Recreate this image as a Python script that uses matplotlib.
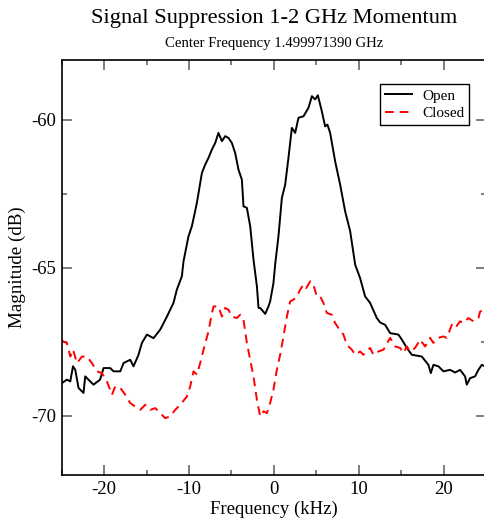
#!/usr/bin/env python
"""Open vs closed signal suppression spectrum (Grace-style plot)."""
import matplotlib

matplotlib.use("Agg")
import matplotlib.pyplot as plt
from matplotlib.ticker import MultipleLocator

# frequency offset (kHz) and magnitude (dB)
open_freq = [-25.0, -24.38, -23.99, -23.67, -23.40, -23.02, -22.43, -22.23, -21.25,
             -20.48, -20.07, -19.28, -18.89, -18.10, -17.71, -16.93, -16.54, -15.95,
             -15.55, -14.96, -14.18, -13.39, -12.60, -11.83, -11.43, -10.84, -10.65,
             -10.06, -9.66, -9.07, -8.48, -8.09, -7.70, -7.30, -6.91, -6.53, -6.12,
             -5.74, -5.35, -4.95, -4.56, -4.17, -3.77, -3.58, -3.18, -2.79, -2.40,
             -2.00, -1.81, -1.61, -1.02, -0.64, -0.44, -0.05, 0.15, 0.54, 0.94, 1.33,
             1.72, 2.12, 2.51, 2.90, 3.49, 4.08, 4.48, 4.86, 5.18, 5.65, 6.04, 6.31,
             6.63, 7.22, 7.81, 8.40, 8.99, 9.58, 10.16, 10.75, 11.34, 12.13, 12.52,
             13.11, 13.70, 14.68, 15.08, 15.67, 16.25, 17.43, 18.21, 18.49, 18.80,
             19.39, 19.98, 20.77, 21.36, 21.94, 22.53, 22.73, 23.12, 23.71, 24.10,
             24.50, 25.0]
open_mag = [-68.90, -68.78, -68.84, -68.33, -68.45, -69.06, -69.23, -68.67, -68.95,
            -68.78, -68.39, -68.39, -68.50, -68.50, -68.22, -68.11, -68.33, -67.94,
            -67.54, -67.26, -67.38, -67.09, -66.65, -66.19, -65.74, -65.29, -64.79,
            -63.94, -63.60, -62.81, -61.80, -61.52, -61.29, -61.01, -60.79, -60.45,
            -60.73, -60.56, -60.62, -60.79, -61.13, -61.69, -62.03, -62.93, -62.98,
            -63.60, -64.73, -65.63, -66.36, -66.36, -66.56, -66.31, -66.14, -65.52,
            -64.90, -63.94, -62.65, -62.20, -61.29, -60.28, -60.45, -59.94, -59.89,
            -59.60, -59.21, -59.32, -59.18, -59.72, -60.23, -60.17, -60.45, -61.41,
            -62.20, -63.10, -63.77, -64.90, -65.35, -65.97, -66.19, -66.70, -66.85,
            -66.93, -67.21, -67.26, -67.43, -67.71, -67.94, -68.00, -68.28, -68.56,
            -68.28, -68.33, -68.50, -68.45, -68.54, -68.45, -68.67, -68.95, -68.73,
            -68.67, -68.45, -68.28, -68.35]

closed_freq = [-25.0, -24.85, -24.38, -23.99, -23.67, -23.20, -22.61, -22.03, -21.44,
               -20.85, -20.26, -19.67, -19.08, -18.69, -18.10, -17.51, -16.93, -16.34,
               -15.75, -15.16, -14.57, -13.98, -13.39, -12.80, -12.21, -11.63, -11.04,
               -10.25, -9.86, -9.47, -9.07, -8.68, -8.29, -7.70, -7.30, -7.11, -6.53,
               -6.12, -5.74, -5.35, -4.95, -4.36, -3.97, -3.58, -3.18, -2.79, -2.40,
               -2.00, -1.61, -1.22, -0.82, -0.44, -0.05, 0.35, 0.74, 1.13, 1.53, 1.92,
               2.31, 2.71, 3.10, 3.49, 3.80, 4.28, 4.66, 5.06, 5.45, 5.84, 6.24, 6.83,
               7.22, 7.61, 8.20, 8.60, 9.19, 9.58, 10.16, 10.55, 11.34, 11.73, 12.32,
               12.91, 13.70, 14.29, 14.88, 15.26, 15.67, 16.05, 16.64, 17.23, 17.82,
               18.41, 18.80, 19.39, 19.98, 20.38, 20.97, 21.36, 21.94, 22.33, 22.92,
               23.51, 24.10, 24.30, 24.77, 25.0]
closed_mag = [-67.43, -67.49, -67.54, -68.00, -67.77, -68.22, -68.00, -68.00, -68.22,
              -68.50, -68.56, -68.84, -69.29, -69.01, -69.06, -69.29, -69.57, -69.69,
              -69.80, -69.63, -69.80, -69.74, -69.91, -70.08, -70.02, -69.80, -69.63,
              -69.35, -69.01, -68.50, -68.61, -68.22, -67.77, -67.15, -66.53, -66.31,
              -66.31, -66.65, -66.36, -66.42, -66.65, -66.70, -66.59, -66.76, -67.54,
              -68.11, -68.67, -69.46, -70.02, -69.85, -69.91, -69.57, -69.12, -68.45,
              -67.94, -67.32, -66.65, -66.14, -66.08, -65.97, -65.74, -65.57, -65.69,
              -65.46, -65.57, -65.97, -65.97, -66.19, -66.53, -66.59, -66.87, -67.04,
              -67.26, -67.60, -67.77, -67.94, -67.83, -67.94, -67.71, -67.94, -67.83,
              -67.77, -67.37, -67.66, -67.71, -67.88, -67.66, -67.83, -67.71, -67.43,
              -67.66, -67.37, -67.54, -67.37, -67.32, -67.37, -66.93, -67.04, -66.81,
              -66.87, -66.70, -66.81, -66.70, -66.48, -66.42, -66.55]

plt.rcParams["font.family"] = ["Liberation Serif", "DejaVu Serif"]
plt.rcParams["axes.unicode_minus"] = False

fig = plt.figure(figsize=(4.84, 5.2), dpi=100)
# right spine sits just past the image edge, as in the original export
ax = fig.add_axes([0.1275, 0.0865, 0.8767, 0.7975])

ax.plot(open_freq, open_mag, color="black", lw=1.4, label="Open")
ax.plot(closed_freq, closed_mag, color="red", lw=1.4, dashes=(4.5, 3), label="Closed")

ax.set_xlim(-25, 25)
ax.set_ylim(-72, -58)
ax.xaxis.set_major_locator(MultipleLocator(10))
ax.xaxis.set_minor_locator(MultipleLocator(5))
ax.yaxis.set_major_locator(MultipleLocator(5))
ax.yaxis.set_minor_locator(MultipleLocator(2.5))
ax.tick_params(which="both", direction="in", top=True, right=True,
               color="0.4", width=1.2, labelsize=13.5, pad=4)
ax.tick_params(which="major", length=7)
ax.tick_params(which="minor", length=3.5)
for sp in ax.spines.values():
    sp.set_linewidth(1.2)

ax.set_xlabel("Frequency (kHz)", fontsize=13.5, labelpad=2)
ax.set_ylabel("Magnitude (dB)", fontsize=13.7)
ax.yaxis.set_label_coords(-0.084, 0.5)

# titles are centred over the (partly clipped) plot area
xc = 0.1275 + 0.8767 / 2
fig.text(xc, 0.964, "Signal Suppression 1-2 GHz Momentum", ha="center", va="center",
         fontsize=16.1)
fig.text(xc, 0.917, "Center Frequency 1.499971390 GHz", ha="center", va="center",
         fontsize=10.6)

leg = ax.legend(loc="upper left", bbox_to_anchor=(0.750, 0.942), borderaxespad=0,
                fontsize=11, fancybox=False, framealpha=1, edgecolor="black",
                handlelength=1.8, handletextpad=0.65, borderpad=0.3,
                labelspacing=0.25)
leg.get_frame().set_linewidth(1.0)

fig.savefig("out.png", dpi=100)
